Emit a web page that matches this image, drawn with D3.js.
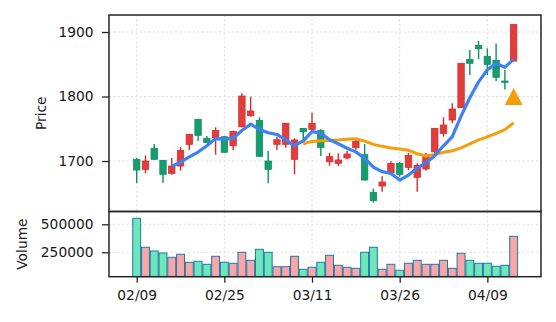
<!DOCTYPE html>
<html>
<head>
<meta charset="utf-8">
<script src="https://cdn.jsdelivr.net/npm/d3@7"></script>
<style>
  html, body { margin: 0; padding: 0; background: #fff; }
  svg { display: block; font-family: "DejaVu Sans", sans-serif; }
</style>
</head>
<body>
<svg id="chart" width="556" height="322"></svg>
<script>
// ---- data ----
const dates = ["02/09","02/10","02/11","02/12","02/13","02/18","02/19","02/20","02/23","02/24",
  "02/25","02/26","02/27","03/02","03/03","03/04","03/05","03/06","03/09","03/10",
  "03/11","03/12","03/13","03/16","03/17","03/18","03/19","03/23","03/24","03/25",
  "03/26","03/27","03/30","03/31","04/01","04/02","04/03","04/06","04/07","04/08",
  "04/09","04/10","04/13","04/14"];
const opens  = [1702.6,1687.1,1719.7,1701.0,1680.9,1692.2,1725.9,1764.6,1735.2,1736.1,
  1737.7,1723.7,1753.2,1770.2,1763.1,1700.0,1725.9,1725.9,1702.6,1750.7,
  1749.1,1747.0,1698.9,1696.4,1704.7,1720.6,1709.8,1651.5,1661.2,1681.9,
  1696.4,1690.2,1674.7,1687.6,1714.4,1742.9,1763.6,1782.6,1857.7,1879.4,
  1862.3,1856.1,1824.0,1855.0];
const highs  = [1704.6,1708.8,1726.4,1701.5,1704.6,1721.7,1742.0,1765.0,1738.8,1752.2,
  1738.5,1747.0,1805.0,1799.7,1767.8,1715.5,1737.7,1758.5,1735.2,1751.0,
  1774.9,1749.1,1712.9,1711.9,1716.0,1734.6,1726.4,1657.0,1676.3,1699.5,
  1698.4,1712.4,1696.4,1712.9,1751.0,1767.8,1789.5,1852.0,1872.1,1886.0,
  1874.6,1882.4,1841.0,1912.0];
const lows   = [1666.0,1680.9,1702.0,1666.0,1678.8,1685.0,1717.0,1731.0,1728.0,1709.8,
  1713.0,1716.6,1752.0,1768.7,1707.0,1665.4,1717.0,1720.6,1679.4,1732.6,
  1745.4,1707.8,1692.7,1692.2,1702.6,1717.0,1670.0,1635.4,1652.4,1678.3,
  1675.7,1686.0,1652.4,1685.0,1709.3,1737.7,1758.5,1782.0,1833.3,1857.7,
  1833.3,1824.0,1810.9,1855.0];
const closes = [1686.0,1700.0,1702.6,1679.4,1692.2,1716.6,1741.4,1739.8,1728.4,1747.3,
  1713.5,1746.0,1800.8,1777.5,1707.3,1687.1,1733.0,1758.5,1732.6,1745.4,
  1758.5,1721.2,1706.7,1701.6,1710.9,1730.5,1670.5,1638.5,1667.4,1696.4,
  1679.4,1708.8,1693.3,1709.3,1750.7,1755.8,1780.6,1851.5,1851.5,1874.1,
  1849.9,1829.8,1822.0,1912.0];
const volumes = [553600,294600,261600,243800,205300,232100,160700,169600,142800,214300,
  160700,151800,250000,178600,276800,250000,121400,121400,214300,98200,
  116000,160700,223200,133900,116000,107100,250000,294600,98200,142800,
  89300,151800,178600,142800,142800,178600,107100,241100,178600,151800,
  151800,125000,133900,392900];
const maPeriods = [5, 20];
const signalIdx = [43];
const signalPrice = [1800];
const priceTicks = [1700, 1800, 1900];
const volTicks = [250000, 500000];
const dateTickIdx = [0, 10, 20, 30, 40];

// ---- layout ----
const svg = d3.select("#chart");
const L = 109, R = 541, pTop = 15, pBot = 211.5, vBot = 276.7;
const FONT = 13.8;
const n = dates.length;

const x = d3.scaleLinear().domain([-3.16, 46.12]).range([L, R]);
const yP = d3.scaleLinear().domain([1621.7, 1926.4]).range([pBot, pTop]);
const yV = d3.scaleLinear().domain([32100, 614300]).range([vBot, pBot]);

const idx = d3.range(n);
const up = i => closes[i] >= opens[i];

// grids
function gridLayer(y0, y1, yTicks, yScale) {
  const g = svg.append("g").attr("stroke", "#dcdcdc").attr("stroke-width", 1)
    .attr("stroke-dasharray", "2,2.4");
  g.selectAll(".gx").data(dateTickIdx).join("line")
    .attr("x1", d => x(d)).attr("x2", d => x(d)).attr("y1", y0).attr("y2", y1);
  g.selectAll(".gy").data(yTicks).join("line")
    .attr("x1", L).attr("x2", R).attr("y1", d => yScale(d)).attr("y2", d => yScale(d));
}
gridLayer(pTop, pBot, priceTicks, yP);
gridLayer(pBot, vBot, volTicks, yV);

// candles
const cw = 6.4;
const cg = svg.append("g");
cg.selectAll(".wick").data(idx).join("line")
  .attr("x1", i => x(i)).attr("x2", i => x(i))
  .attr("y1", i => yP(highs[i])).attr("y2", i => yP(lows[i]))
  .attr("stroke", i => up(i) ? "#d62c2c" : "#0d8f62").attr("stroke-width", 1.4);
cg.selectAll(".body").data(idx).join("rect")
  .attr("x", i => x(i) - cw / 2).attr("width", cw)
  .attr("y", i => yP(Math.max(opens[i], closes[i])))
  .attr("height", i => Math.max(1.2, Math.abs(yP(opens[i]) - yP(closes[i]))))
  .attr("fill", i => up(i) ? "#e23d3d" : "#169c6d")
  .attr("stroke", i => up(i) ? "#d62c2c" : "#0d8f62").attr("stroke-width", 0.8);

// moving averages
function ma(p) {
  return idx.filter(i => i >= p - 1).map(i => [i, d3.mean(closes.slice(i - p + 1, i + 1))]);
}
const line = d3.line().x(d => x(d[0])).y(d => yP(d[1]));
svg.append("path").datum(ma(maPeriods[1])).attr("d", line)
  .attr("fill", "none").attr("stroke", "#f59e0b").attr("stroke-width", 3)
  .attr("stroke-linejoin", "round");
svg.append("path").datum(ma(maPeriods[0])).attr("d", line)
  .attr("fill", "none").attr("stroke", "#3b82f6").attr("stroke-width", 3.2)
  .attr("stroke-linejoin", "round");

// signal marker
svg.selectAll(".sig").data(signalIdx).join("path")
  .attr("d", (d, k) => {
    const cx = x(d), cy = yP(signalPrice[k]);
    return `M${cx},${cy - 8.6}L${cx - 9},${cy + 8.6}L${cx + 9},${cy + 8.6}Z`;
  })
  .attr("fill", "#f59e0b");

// volume bars
const vw = 7.9;
svg.append("g").selectAll("rect").data(idx).join("rect")
  .attr("x", i => x(i) - vw / 2).attr("width", vw)
  .attr("y", i => yV(volumes[i])).attr("height", i => vBot - yV(volumes[i]))
  .attr("fill", i => up(i) ? "#fca5a5" : "#6ee7b7")
  .attr("stroke", "#1f77b4").attr("stroke-width", 1);

// frames
const frame = svg.append("g").attr("fill", "none").attr("stroke", "#262626").attr("stroke-width", 1.5);
frame.append("rect").attr("x", L).attr("y", pTop).attr("width", R - L).attr("height", pBot - pTop);
frame.append("rect").attr("x", L).attr("y", pBot).attr("width", R - L).attr("height", vBot - pBot);

// axes
function styleAxis(g) {
  g.select(".domain").remove();
  g.selectAll(".tick line").attr("stroke", "#262626").attr("stroke-width", 1.3);
  g.selectAll(".tick text").attr("fill", "#1a1a1a")
    .attr("font-size", FONT).attr("font-family", "DejaVu Sans, sans-serif");
}
svg.append("g").attr("transform", `translate(${L},0)`)
  .call(d3.axisLeft(yP).tickValues(priceTicks).tickSize(7).tickPadding(8.5).tickFormat(d3.format("d")))
  .call(styleAxis);
svg.append("g").attr("transform", `translate(${L},0)`)
  .call(d3.axisLeft(yV).tickValues(volTicks).tickSize(7).tickPadding(8.5).tickFormat(d3.format("d")))
  .call(styleAxis);
svg.append("g").attr("transform", `translate(0,${vBot})`)
  .call(d3.axisBottom(x).tickValues(dateTickIdx).tickSize(6).tickPadding(8).tickFormat(d => dates[d]))
  .call(styleAxis);

// axis titles
svg.append("text").attr("transform", `translate(46,${(pTop + pBot) / 2}) rotate(-90)`)
  .attr("text-anchor", "middle").attr("font-size", FONT).attr("fill", "#1a1a1a").text("Price");
svg.append("text").attr("transform", `translate(27,${(pBot + vBot) / 2}) rotate(-90)`)
  .attr("text-anchor", "middle").attr("font-size", FONT).attr("fill", "#1a1a1a").text("Volume");
</script>
</body>
</html>
